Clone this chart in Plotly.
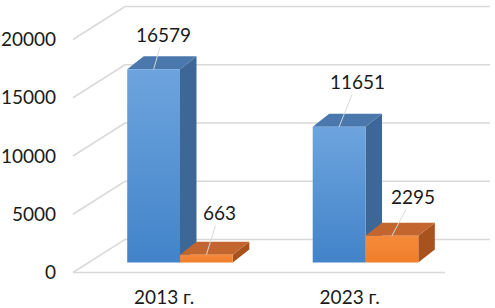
import plotly.graph_objects as go

# ---- data ----
categories = ["2013 г.", "2023 г."]
series_a = [16579, 11651]   # blue
series_b = [663, 2295]      # orange
y_ticks = [0, 5000, 10000, 15000, 20000]

# ---- styling / geometry constants ----
FONT = "Lato"
FSIZE = 19
TXT = "#1A1A1A"
GRID = "#D9D9D9"
BAR_W = 0.2846          # width of one bar in category units
PLANE_DX, PLANE_DY = 0.0852, 858     # offset of bar plane from front plane
BAR_DX, BAR_DY = 0.089, 1116         # bar depth (top/side faces)
WALL_DX, WALL_DY = 0.2803, 2833      # floor depth to back wall
LEFT_FRONT = -0.4916
FLOOR_RIGHT = 1.5137
WALL_RIGHT = 1.756

blue = dict(front=[[0, "#4283C9"], [1, "#6DA4DE"]], top="#4A78AC", side="#3C6797")
orange = dict(front=[[0, "#F07E2A"], [1, "#F58A3C"]], top="#C3652F", side="#A8521D")
label_offsets = {("a", 0): (10, -35), ("b", 0): (13, -42), ("a", 1): (18, -45), ("b", 1): (21, -39)}

fig = go.Figure()

def poly(xs, ys, color=None, grad=None):
    kw = dict(x=xs + [xs[0]], y=ys + [ys[0]], mode="lines", fill="toself",
              line=dict(width=0), hoverinfo="skip", showlegend=False)
    if grad is not None:
        kw["fillgradient"] = dict(type="vertical", colorscale=grad)
        kw["fillcolor"] = grad[-1][1]
    else:
        kw["fillcolor"] = color
    fig.add_trace(go.Scatter(**kw))

def line(xs, ys, width=1.5):
    fig.add_trace(go.Scatter(x=xs, y=ys, mode="lines", line=dict(color=GRID, width=width),
                             hoverinfo="skip", showlegend=False))

# walls / gridlines
for v in y_ticks:
    line([LEFT_FRONT, LEFT_FRONT + WALL_DX, WALL_RIGHT], [v, v + WALL_DY, v + WALL_DY])
line([LEFT_FRONT, FLOOR_RIGHT], [0, 0])

# bars
annots = []
for i, cat in enumerate(categories):
    center = i + PLANE_DX
    for key, vals, col, x0 in (("a", series_a, blue, center - BAR_W), ("b", series_b, orange, center)):
        v = vals[i]
        x1 = x0 + BAR_W
        base = PLANE_DY
        top = PLANE_DY + v
        # side
        poly([x1, x1 + BAR_DX, x1 + BAR_DX, x1], [base, base + BAR_DY, top + BAR_DY, top], color=col["side"])
        # top
        poly([x0, x1, x1 + BAR_DX, x0 + BAR_DX], [top, top, top + BAR_DY, top + BAR_DY], color=col["top"])
        # front
        poly([x0, x1, x1, x0], [base, base, top, top], grad=col["front"])
        ax, ay = label_offsets[(key, i)]
        annots.append(dict(x=(x0 + x1) / 2, y=top, xref="x", yref="y", text=f"{v}",
                           showarrow=True, arrowhead=0, arrowwidth=1, arrowcolor="#D9D9D9",
                           ax=ax, ay=ay, standoff=0, startstandoff=0,
                           font=dict(family=FONT, size=FSIZE, color=TXT)))

fig.update_layout(
    width=495, height=308,
    margin=dict(l=57, r=0, t=0, b=22),
    paper_bgcolor="white", plot_bgcolor="white",
    showlegend=False,
    annotations=annots,
    xaxis=dict(range=[-0.5779, 1.7833], tickvals=[0, 1], ticktext=categories,
               showgrid=False, zeroline=False, showline=False, ticks="", automargin=False,
               ticklabelstandoff=-2,
               tickfont=dict(family=FONT, size=FSIZE, color=TXT)),
    yaxis=dict(range=[-1159, 23391], tickvals=y_ticks, ticktext=[str(t) for t in y_ticks],
               showgrid=False, zeroline=False, showline=False, ticks="", automargin=False,
               tickfont=dict(family=FONT, size=FSIZE, color=TXT)),
)

fig.write_html("out.html", config={"displayModeBar": False},
               post_script="document.body.style.margin='0';document.body.style.overflow='hidden';")
